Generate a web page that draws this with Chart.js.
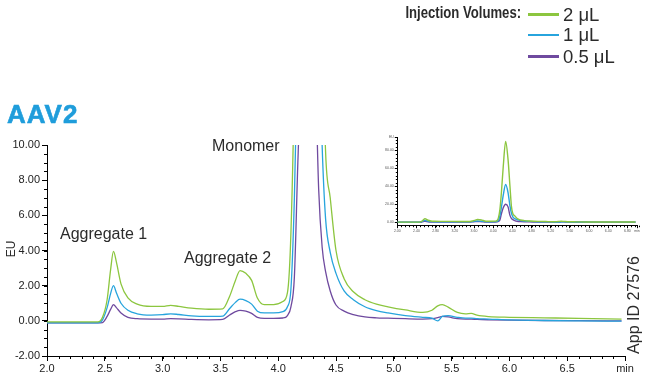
<!DOCTYPE html>
<html><head><meta charset="utf-8">
<script src="https://cdn.jsdelivr.net/npm/chart.js@4.4.1/dist/chart.umd.min.js"></script>
<style>
html,body{margin:0;padding:0;background:#fff;width:645px;height:378px;overflow:hidden;font-family:"Liberation Sans",Arial,Helvetica,sans-serif;}
#wrap{position:relative;width:645px;height:378px;}
canvas{position:absolute;}
.t{position:absolute;white-space:nowrap;color:#2b2b2b;line-height:1;}
.lg{position:absolute;height:2.6px;width:31px;left:528px;}
</style></head>
<body><div id="wrap">
<canvas id="main" width="645" height="378" style="left:0;top:0"></canvas>
<canvas id="inset" width="265" height="115" style="left:380px;top:128px"></canvas>
<div class="t" style="left:380px;top:4.8px;width:138px;text-align:right;font-size:16px;font-weight:bold;"><span style="display:inline-block;transform:scaleX(0.82);transform-origin:right center;">Injection Volumes:</span></div>
<div class="lg" style="top:13.2px;background:#8cc63f"></div>
<div class="lg" style="top:33.7px;background:#27a4dd"></div>
<div class="lg" style="top:55.2px;background:#6f4a9f"></div>
<div class="t" style="left:563px;top:6px;font-size:18.5px;">2 μL</div>
<div class="t" style="left:563px;top:26px;font-size:18.5px;">1 μL</div>
<div class="t" style="left:563px;top:47.5px;font-size:18.5px;">0.5 μL</div>
<div class="t" style="left:7px;top:101px;font-size:26px;font-weight:bold;color:#1f9ddb;letter-spacing:1px;-webkit-text-stroke:0.6px #1f9ddb;">AAV2</div>
<div class="t" style="left:60px;top:226px;font-size:16px;">Aggregate 1</div>
<div class="t" style="left:184px;top:250px;font-size:16px;">Aggregate 2</div>
<div class="t" style="left:212px;top:137.5px;font-size:16px;">Monomer</div>
<div class="t" style="left:-9px;top:243px;width:40px;height:12px;text-align:center;font-size:12px;transform:rotate(-90deg);">EU</div>
<div class="t" style="left:582px;top:297px;width:104px;height:16px;text-align:center;font-size:16px;transform:rotate(-90deg);">App ID 27576</div>
</div>
<script>
// ---- data ----
const times = [2.00,2.44,2.48,2.52,2.55,2.575,2.60,2.64,2.70,2.78,2.90,3.00,3.07,3.14,3.25,3.40,3.52,3.58,3.63,3.67,3.72,3.77,3.82,3.88,3.96,4.04,4.08,4.11,4.14,4.17,4.21,4.26,4.31,4.35,4.38,4.41,4.45,4.50,4.57,4.65,4.75,4.85,4.95,5.10,5.25,5.33,5.38,5.42,5.47,5.55,5.62,5.67,5.72,5.82,6.00,6.30,6.60,6.97];
const green2uL = [-0.06,-0.06,0.2,1.2,2.9,3.95,3.35,2.1,1.3,0.95,0.82,0.82,0.88,0.82,0.72,0.66,0.68,1.4,2.3,2.86,2.7,2.3,1.3,0.92,0.92,1.1,1.6,5,14,32,62,90,70,40,18,9.6,7.0,4.0,2.4,1.65,1.2,0.95,0.8,0.62,0.48,0.6,0.85,0.92,0.78,0.48,0.4,0.42,0.32,0.24,0.2,0.17,0.14,0.1];
const blue1uL = [-0.12,-0.12,0.05,0.75,1.55,2.0,1.6,1.0,0.6,0.4,0.33,0.35,0.4,0.36,0.28,0.25,0.27,0.7,1.05,1.23,1.15,0.95,0.55,0.45,0.45,0.52,0.8,1.8,7,16,30,42,33,18,10,5.8,3.9,2.7,1.7,1.2,0.8,0.58,0.45,0.3,0.2,0.15,0.0,0.25,0.3,0.2,0.15,0.15,0.12,0.1,0.05,0.02,0.0,-0.02];
const purple05uL = [-0.12,-0.12,-0.1,0.25,0.65,0.92,0.75,0.45,0.2,0.12,0.1,0.1,0.12,0.11,0.08,0.06,0.08,0.33,0.52,0.6,0.55,0.42,0.2,0.14,0.14,0.16,0.3,0.8,2.5,9,16,20,17,7.5,4.2,2.8,1.7,0.9,0.55,0.35,0.22,0.17,0.15,0.12,0.1,0.12,0.18,0.25,0.22,0.12,0.1,0.1,0.08,0.06,0.04,0.02,0.01,0.0];
const seriesLabels = ['2 μL','1 μL','0.5 μL'];
const seriesColors = ['#8cc63f','#27a4dd','#6f4a9f'];

const mainXTicks = [2.0,2.5,3.0,3.5,4.0,4.5,5.0,5.5,6.0,6.5,7.0];
const mainXTickLabels = ['2.0','2.5','3.0','3.5','4.0','4.5','5.0','5.5','6.0','6.5','min'];
const mainYTicks = [-2,0,2,4,6,8,10];
const mainYTickLabels = ['-2.00','0.00','2.00','4.00','6.00','8.00','10.00'];
const insetXTicks = [2.0,2.4,2.8,3.2,3.6,4.0,4.4,4.8,5.2,5.6,6.0,6.4,6.8,7.0];
const insetXTickLabels = ['2.00','2.40','2.80','3.20','3.60','4.00','4.40','4.80','5.20','5.60','6.00','6.40','6.80','min'];
const insetYTicks = [0,20,40,60,80,95];
const insetYTickLabels = ['0.00','20.00','40.00','60.00','80.00','EU'];

const minorTicks = {
  id:'minorTicks',
  afterDraw(chart, args, o){
    if(!o || !o.xStep) return;
    const ctx = chart.ctx, xs = chart.scales.x, ys = chart.scales.y;
    ctx.save(); ctx.strokeStyle = '#000'; ctx.lineWidth = 1; ctx.beginPath();
    const nx = Math.round((xs.max - xs.min)/o.xStep);
    for(let i=0;i<=nx;i++){ const px = Math.round(xs.getPixelForValue(xs.min + i*o.xStep)) + 0.5; ctx.moveTo(px, xs.top); ctx.lineTo(px, xs.top + o.len); }
    const ny = Math.floor((ys.max - o.yStart)/o.yStep);
    for(let i=0;i<=ny;i++){ const py = Math.round(ys.getPixelForValue(o.yStart + i*o.yStep)) + 0.5; ctx.moveTo(ys.right, py); ctx.lineTo(ys.right - o.len, py); }
    ctx.stroke(); ctx.restore();
  }
};
Chart.register(minorTicks);

function makeDatasets(bw){
  return [green2uL, blue1uL, purple05uL].map((vals, k) => ({
    label: seriesLabels[k],
    data: times.map((t,i) => ({x:t, y:vals[i]})),
    borderColor: seriesColors[k], backgroundColor: seriesColors[k],
    borderWidth: bw, pointRadius: 0, fill: false, cubicInterpolationMode: 'monotone'
  }));
}
const FONT = '"Liberation Sans", Arial, sans-serif';

new Chart(document.getElementById('main'), {
  type: 'line',
  data: { datasets: makeDatasets(1.3) },
  options: {
    responsive: false, animation: false, devicePixelRatio: 1,
    layout: { padding: { top: 145, right: 20, left: 0, bottom: 0 } },
    plugins: { legend: { display: false }, tooltip: { enabled: false },
      minorTicks: { xStep: 0.1, yStep: 0.5, yStart: -2, len: 3 } },
    scales: {
      x: { type: 'linear', min: 2, max: 7,
        afterBuildTicks: s => { s.ticks = mainXTicks.map(v => ({ value: v })); },
        afterFit: s => { s.height = 22; },
        ticks: { callback: (v, i) => mainXTickLabels[i], autoSkip: false, maxRotation: 0, padding: 1, color: '#222', font: { family: FONT, size: 11 } },
        grid: { drawOnChartArea: false, drawTicks: true, tickLength: 5, color: '#000' },
        border: { display: true, color: '#000', width: 1 } },
      y: { type: 'linear', min: -2, max: 10,
        afterBuildTicks: s => { s.ticks = mainYTicks.map(v => ({ value: v })); },
        afterFit: s => { s.width = 47; },
        ticks: { callback: (v, i) => mainYTickLabels[i], autoSkip: false, padding: 2, color: '#222', font: { family: FONT, size: 11 } },
        grid: { drawOnChartArea: false, drawTicks: true, tickLength: 5, color: '#000' },
        border: { display: true, color: '#000', width: 1 } }
    }
  }
});

new Chart(document.getElementById('inset'), {
  type: 'line',
  data: { datasets: makeDatasets(1.4) },
  options: {
    responsive: false, animation: false, devicePixelRatio: 1,
    layout: { padding: { top: 9, right: 8, left: 0, bottom: 0 } },
    plugins: { legend: { display: false }, tooltip: { enabled: false },
      minorTicks: { xStep: 0.08, yStep: 4, yStart: 0, len: 1.5 } },
    scales: {
      x: { type: 'linear', min: 2, max: 7,
        afterBuildTicks: s => { s.ticks = insetXTicks.map(v => ({ value: v })); },
        afterFit: s => { s.height = 17.3; },
        ticks: { callback: (v, i) => insetXTickLabels[i], autoSkip: false, maxRotation: 0, padding: 1, color: '#555', font: { family: FONT, size: 3.5 } },
        grid: { drawOnChartArea: false, drawTicks: true, tickLength: 2.5, color: '#000' },
        border: { display: true, color: '#000', width: 1 } },
      y: { type: 'linear', min: -4, max: 95,
        afterBuildTicks: s => { s.ticks = insetYTicks.map(v => ({ value: v })); },
        afterFit: s => { s.width = 17.3; },
        ticks: { callback: (v, i) => insetYTickLabels[i], autoSkip: false, padding: 1, color: '#555', font: { family: FONT, size: 3.5 } },
        grid: { drawOnChartArea: false, drawTicks: true, tickLength: 2.5, color: '#000' },
        border: { display: true, color: '#000', width: 1 } }
    }
  }
});
</script>
</body></html>
